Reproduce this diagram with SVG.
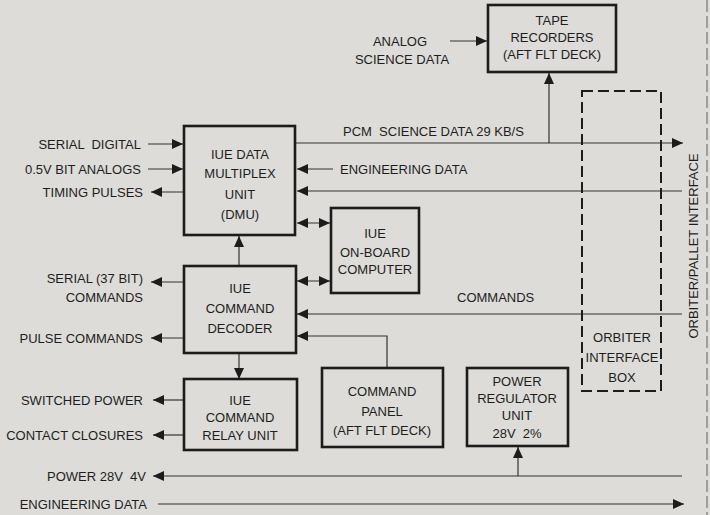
<svg xmlns="http://www.w3.org/2000/svg" width="710" height="515" viewBox="0 0 710 515">
<defs>
<style>
text{font-family:"Liberation Sans",Arial,sans-serif;font-size:13px;fill:#1e1e1e}
.c{text-anchor:middle}
.e{text-anchor:end}
.box{fill:none;stroke:#1c1c1c;stroke-width:2.6}
.dash{fill:none;stroke:#1c1c1c;stroke-width:2;stroke-dasharray:11 5}
.ln{fill:none;stroke:#333;stroke-width:1.2}
.ar{marker-end:url(#ah)}
.dbl{marker-end:url(#ah);marker-start:url(#ah)}
</style>
<marker id="ah" markerUnits="userSpaceOnUse" markerWidth="12" markerHeight="10" refX="11" refY="5" orient="auto-start-reverse">
<path d="M0,0 L11,5 L0,10 z" fill="#1c1c1c"/>
</marker>
</defs>
<rect width="710" height="515" fill="#dddcd8"/>
<line x1="707" y1="0" x2="707" y2="515" stroke="#777" stroke-width="1.2" stroke-dasharray="12 4"/>

<g id="connectors">
<line class="ln ar" x1="148" y1="144" x2="183" y2="144"/>
<line class="ln ar" x1="148" y1="169" x2="183" y2="169"/>
<line class="ln ar" x1="184" y1="192" x2="151" y2="192"/>
<line class="ln ar" x1="296" y1="143" x2="683" y2="143"/>
<line class="ln ar" x1="549" y1="143" x2="549" y2="73"/>
<line class="ln ar" x1="333" y1="169" x2="297" y2="169"/>
<line class="ln ar" x1="682" y1="191" x2="297" y2="191"/>
<line class="ln ar" x1="450" y1="41" x2="487" y2="41"/>
<line class="ln dbl" x1="297" y1="223" x2="330" y2="223"/>
<line class="ln ar" x1="239" y1="265" x2="239" y2="236"/>
<line class="ln ar" x1="239" y1="354" x2="239" y2="379"/>
<line class="ln dbl" x1="297" y1="281" x2="330" y2="281"/>
<line class="ln ar" x1="682" y1="314" x2="297" y2="314"/>
<polyline class="ln ar" points="387,368 387,336 297,336"/>
<line class="ln ar" x1="184" y1="282" x2="151" y2="282"/>
<line class="ln ar" x1="184" y1="338" x2="151" y2="338"/>
<line class="ln ar" x1="184" y1="400" x2="153" y2="400"/>
<line class="ln ar" x1="184" y1="435" x2="153" y2="435"/>
<line class="ln ar" x1="682" y1="476" x2="153" y2="476"/>
<line class="ln ar" x1="518" y1="476" x2="518" y2="447"/>
<line class="ln ar" x1="158" y1="504" x2="684" y2="504"/>
</g>

<g id="tape">
<rect class="box" x="488" y="5" width="128" height="67"/>
<text class="c" x="552" y="25">TAPE</text>
<text class="c" x="552" y="42">RECORDERS</text>
<text class="c" x="552" y="59">(AFT FLT DECK)</text>
</g>

<g id="dmu">
<rect class="box" x="184" y="126" width="111" height="109"/>
<text class="c" x="240" y="159">IUE DATA</text>
<text class="c" x="240" y="178">MULTIPLEX</text>
<text class="c" x="240" y="199">UNIT</text>
<text class="c" x="240" y="219">(DMU)</text>
</g>

<g id="obc">
<rect class="box" x="331" y="208" width="88" height="85"/>
<text class="c" x="375" y="238">IUE</text>
<text class="c" x="375" y="257">ON-BOARD</text>
<text class="c" x="375" y="274">COMPUTER</text>
</g>

<g id="decoder">
<rect class="box" x="184" y="266" width="112" height="87"/>
<text class="c" x="240" y="293">IUE</text>
<text class="c" x="240" y="313">COMMAND</text>
<text class="c" x="240" y="333">DECODER</text>
</g>

<g id="relay">
<rect class="box" x="184" y="379" width="113" height="71"/>
<text class="c" x="240" y="405">IUE</text>
<text class="c" x="240" y="422">COMMAND</text>
<text class="c" x="240" y="440">RELAY UNIT</text>
</g>

<g id="panel">
<rect class="box" x="322" y="368" width="121" height="79"/>
<text class="c" x="382" y="396">COMMAND</text>
<text class="c" x="382" y="416">PANEL</text>
<text class="c" x="382" y="435">(AFT FLT DECK)</text>
</g>

<g id="regulator">
<rect class="box" x="467" y="368" width="101" height="78"/>
<text class="c" x="517" y="386">POWER</text>
<text class="c" x="517" y="403">REGULATOR</text>
<text class="c" x="517" y="420">UNIT</text>
<text class="c" x="517" y="438" xml:space="preserve">28V  2%</text>
</g>

<g id="oib">
<rect class="dash" x="582" y="91" width="79" height="300"/>
<text class="c" x="622" y="342">ORBITER</text>
<text class="c" x="622" y="362">INTERFACE</text>
<text class="c" x="622" y="382">BOX</text>
</g>

<g id="labels">
<text class="e" x="141" y="149" xml:space="preserve">SERIAL  DIGITAL</text>
<text class="e" x="141" y="174">0.5V BIT ANALOGS</text>
<text class="e" x="143" y="197">TIMING PULSES</text>
<text class="c" x="400" y="46">ANALOG</text>
<text class="c" x="402" y="64">SCIENCE DATA</text>
<text x="343" y="136" xml:space="preserve">PCM  SCIENCE DATA 29 KB/S</text>
<text x="340" y="174">ENGINEERING DATA</text>
<text class="e" x="143" y="283">SERIAL (37 BIT)</text>
<text class="e" x="143" y="302">COMMANDS</text>
<text x="457" y="302">COMMANDS</text>
<text class="e" x="143" y="343">PULSE COMMANDS</text>
<text class="e" x="143" y="405">SWITCHED POWER</text>
<text class="e" x="143" y="440">CONTACT CLOSURES</text>
<text class="e" x="146" y="481" xml:space="preserve">POWER 28V  4V</text>
<text class="e" x="147" y="509">ENGINEERING DATA</text>
<text class="c" transform="translate(698,246) rotate(-90)">ORBITER/PALLET INTERFACE</text>
</g>
</svg>
